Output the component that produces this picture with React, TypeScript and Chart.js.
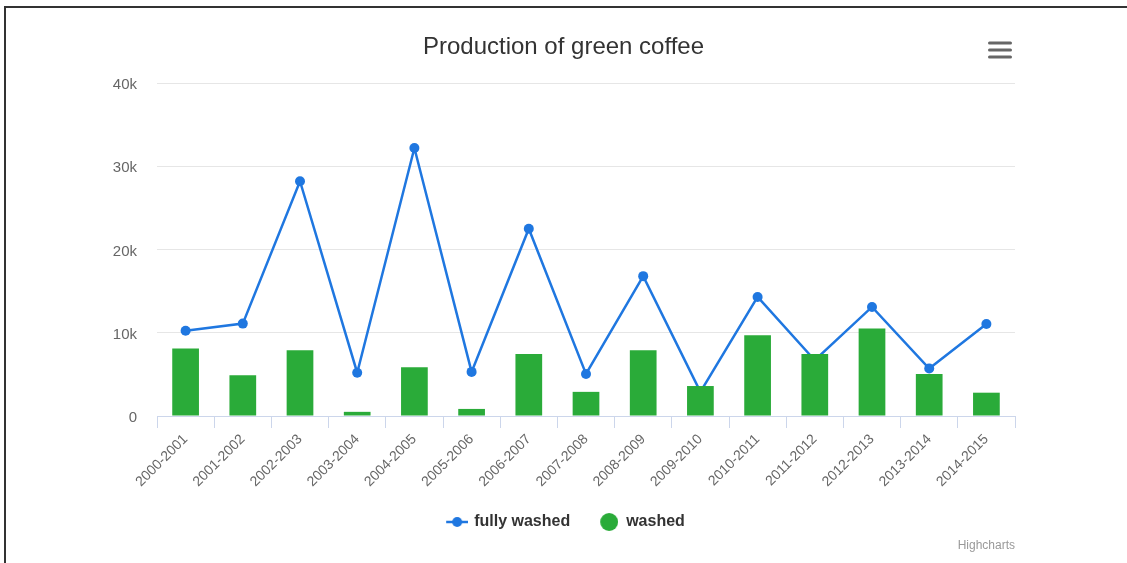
import React, { useEffect, useRef } from "react";
import { Chart, registerables } from "chart.js";

Chart.register(...registerables);

const categories = [
  "2000-2001", "2001-2002", "2002-2003", "2003-2004", "2004-2005",
  "2005-2006", "2006-2007", "2007-2008", "2008-2009", "2009-2010",
  "2010-2011", "2011-2012", "2012-2013", "2013-2014", "2014-2015",
];
const fullyWashed = [10250, 11100, 28200, 5200, 32200, 5300, 22500, 5050, 16800, 2900, 14300, 6700, 13100, 5700, 11050];
const washed = [8100, 4900, 7900, 500, 5850, 850, 7450, 2900, 7900, 3600, 9700, 7450, 10500, 5050, 2800];
const seriesNames = ["fully washed", "washed"];
const yTicks = [0, 10000, 20000, 30000, 40000];
const titleText = "Production of green coffee";
const creditText = "Highcharts";

const FONT = "'Liberation Sans', Arial, Helvetica, sans-serif";
const BLUE = "#1f77e0";
const GREEN = "#2aab39";

// legend symbol: line with a dot, drawn at the right end of a wider transparent canvas
function makeLineSymbol(): HTMLCanvasElement {
  const c = document.createElement("canvas");
  c.width = 28;
  c.height = 12;
  const ctx = c.getContext("2d")!;
  ctx.strokeStyle = BLUE;
  ctx.lineWidth = 2.5;
  ctx.beginPath();
  ctx.moveTo(6, 6);
  ctx.lineTo(28, 6);
  ctx.stroke();
  ctx.fillStyle = BLUE;
  ctx.beginPath();
  ctx.arc(17, 6, 5, 0, Math.PI * 2);
  ctx.fill();
  return c;
}

function makeCircleSymbol(): HTMLCanvasElement {
  const c = document.createElement("canvas");
  c.width = 24;
  c.height = 18;
  const ctx = c.getContext("2d")!;
  ctx.fillStyle = GREEN;
  ctx.beginPath();
  ctx.arc(15, 9, 9, 0, Math.PI * 2);
  ctx.fill();
  return c;
}

const extrasPlugin = {
  id: "extras",
  afterDraw(chart: any) {
    const ctx = chart.ctx as CanvasRenderingContext2D;
    ctx.save();
    // frame
    ctx.fillStyle = "#333333";
    ctx.fillRect(4, 6, 1127 - 4, 2);
    ctx.fillRect(4, 6, 2, 563 - 6);
    // menu icon
    ctx.strokeStyle = "#666666";
    ctx.lineWidth = 3;
    ctx.lineCap = "round";
    [43, 50, 57].forEach((y) => {
      ctx.beginPath();
      ctx.moveTo(989.5, y);
      ctx.lineTo(1010.5, y);
      ctx.stroke();
    });
    // credits
    ctx.fillStyle = "#999999";
    ctx.font = `12px ${FONT}`;
    ctx.textAlign = "right";
    ctx.textBaseline = "middle";
    ctx.fillText(creditText, 1015, 546);
    ctx.restore();
  },
};

export default function App() {
  const ref = useRef<HTMLCanvasElement | null>(null);

  useEffect(() => {
    if (!ref.current) return;
    const lineSym = makeLineSymbol();
    const circSym = makeCircleSymbol();
    const chart = new Chart(ref.current, {
      type: "bar",
      data: {
        labels: categories,
        datasets: [
          {
            type: "line",
            label: seriesNames[0],
            data: fullyWashed,
            borderColor: BLUE,
            backgroundColor: BLUE,
            borderWidth: 2.5,
            pointRadius: 5,
            pointBorderWidth: 0,
            pointBackgroundColor: BLUE,
            tension: 0,
            fill: false,
            order: 1,
            yAxisID: "y",
          } as any,
          {
            type: "bar",
            label: seriesNames[1],
            data: washed,
            backgroundColor: GREEN,
            borderWidth: 0,
            barPercentage: 0.467,
            categoryPercentage: 1,
            order: 0,
            yAxisID: "y",
          } as any,
        ],
      },
      options: {
        responsive: false,
        animation: false,
        devicePixelRatio: 1,
        layout: { padding: { left: 0, right: 0, top: 0, bottom: 23 } },
        plugins: {
          title: {
            display: true,
            text: titleText,
            color: "#333333",
            font: { family: FONT, size: 24, weight: "normal" },
            padding: { top: 32.6, bottom: 21.6 },
          },
          legend: {
            display: true,
            position: "bottom",
            labels: {
              usePointStyle: true,
              pointStyleWidth: 24,
              padding: 24,
              color: "#333333",
              font: { family: FONT, size: 16, weight: "bold" },
              generateLabels: () => [
                {
                  text: seriesNames[0],
                  pointStyle: lineSym,
                  fillStyle: BLUE,
                  strokeStyle: BLUE,
                  lineWidth: 0,
                  hidden: false,
                  datasetIndex: 0,
                  fontColor: "#333333",
                } as any,
                {
                  text: seriesNames[1],
                  pointStyle: circSym,
                  fillStyle: GREEN,
                  strokeStyle: GREEN,
                  lineWidth: 0,
                  hidden: false,
                  datasetIndex: 1,
                  fontColor: "#333333",
                } as any,
              ],
            },
          },
          tooltip: { enabled: false },
        },
        scales: {
          x: {
            type: "category",
            offset: true,
            grid: {
              display: true,
              offset: true,
              drawOnChartArea: false,
              drawTicks: true,
              tickLength: 12,
              color: "#ccd6eb",
            },
            border: { display: true, color: "#ccd6eb", width: 1 },
            ticks: {
              autoSkip: false,
              maxRotation: 45,
              minRotation: 45,
              padding: 3,
              color: "#666666",
              font: { family: FONT, size: 14 },
            },
            afterFit: (s: any) => {
              s.height = 74;
            },
          },
          y: {
            type: "linear",
            position: "left",
            min: 0,
            max: 40000,
            afterBuildTicks: (s: any) => {
              s.ticks = yTicks.map((v) => ({ value: v }));
            },
            grid: { color: "#e6e6e6", drawTicks: false, lineWidth: 1 },
            border: { display: false },
            ticks: {
              padding: 20,
              labelOffset: 2,
              color: "#666666",
              font: { family: FONT, size: 15 },
              callback: (v: any) => (Number(v) === 0 ? "0" : `${Number(v) / 1000}k`),
            },
            afterFit: (s: any) => {
              s.width = 157;
            },
          },
          yRight: {
            type: "linear",
            position: "right",
            display: true,
            grid: { display: false, drawTicks: false },
            border: { display: false },
            ticks: { display: false },
            afterFit: (s: any) => {
              s.width = 112;
            },
          },
        },
      },
      plugins: [extrasPlugin],
    });
    return () => chart.destroy();
  }, []);

  return (
    <div style={{ position: "fixed", left: 0, top: 0, width: 1127, height: 563, background: "#ffffff" }}>
      <canvas ref={ref} width={1127} height={563} style={{ display: "block" }} />
    </div>
  );
}
